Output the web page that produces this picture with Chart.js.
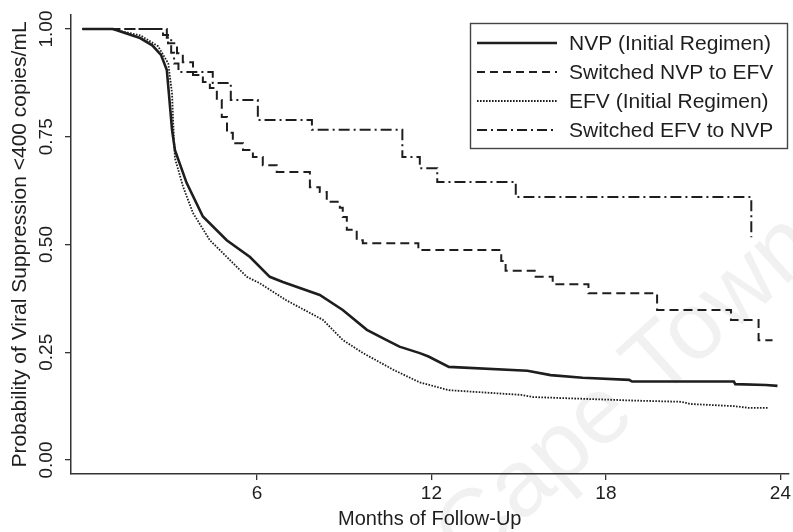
<!DOCTYPE html>
<html>
<head>
<meta charset="utf-8">
<script src="https://cdn.jsdelivr.net/npm/chart.js@4.4.1/dist/chart.umd.min.js"></script>
<style>
  html, body { margin: 0; padding: 0; background: #fff; }
  #wrap { width: 793px; height: 532px; position: relative; }
</style>
</head>
<body>
<div id="wrap"><canvas id="kmChart"></canvas></div>
<script>
// series labels (legend order)
const seriesLabels = [
  'NVP (Initial Regimen)',
  'Switched NVP to EFV',
  'EFV (Initial Regimen)',
  'Switched EFV to NVP'
];

// NVP initial regimen
const nvpMonths = [0, 1.05, 1.98, 2.4, 2.7, 2.9, 3.0, 3.08, 3.18, 3.58, 4.14, 4.96, 5.76, 6.44, 6.89, 8.16, 8.95, 9.78, 10.46, 10.9, 11.6, 11.9, 12.6, 15.3, 16.1, 17.2, 18.8, 18.9, 22.4, 22.45, 23.5, 23.9];
const nvpSurv   = [1, 1, 0.979, 0.962, 0.94, 0.905, 0.828, 0.766, 0.719, 0.643, 0.565, 0.51, 0.471, 0.425, 0.413, 0.383, 0.348, 0.302, 0.278, 0.263, 0.248, 0.24, 0.216, 0.207, 0.197, 0.191, 0.186, 0.182, 0.182, 0.176, 0.174, 0.172];

// switched NVP -> EFV
const nvpEfvMonths = [0, 2.77, 2.94, 3.25, 3.45, 3.8, 4.14, 4.38, 4.62, 4.79, 4.97, 5.17, 5.52, 5.86, 6.2, 6.68, 7.82, 8.16, 8.4, 8.85, 8.95, 9.09, 9.43, 9.64, 11.55, 14.4, 14.55, 15.55, 16.17, 17.4, 19.76, 22.3, 23.25, 23.73];
const nvpEfvSurv   = [1, 0.986, 0.967, 0.944, 0.923, 0.893, 0.877, 0.863, 0.835, 0.796, 0.759, 0.735, 0.719, 0.703, 0.684, 0.668, 0.633, 0.622, 0.599, 0.585, 0.564, 0.534, 0.51, 0.503, 0.487, 0.462, 0.439, 0.425, 0.408, 0.387, 0.348, 0.325, 0.278, 0.278];

// EFV initial regimen
const efvMonths = [0, 1.0, 2.0, 2.6, 2.95, 3.08, 3.12, 3.18, 3.46, 3.8, 4.38, 5.07, 5.65, 6.1, 7.0, 8.27, 8.96, 9.65, 10.7, 11.6, 12.6, 15.1, 15.5, 18.9, 20.6, 20.9, 22.4, 22.9, 23.6];
const efvSurv   = [1, 1, 0.985, 0.96, 0.92, 0.85, 0.78, 0.70, 0.634, 0.573, 0.51, 0.464, 0.425, 0.41, 0.371, 0.325, 0.278, 0.248, 0.209, 0.18, 0.162, 0.151, 0.146, 0.138, 0.135, 0.13, 0.125, 0.121, 0.121];

// switched EFV -> NVP
const efvNvpMonths = [0, 2.9, 3.05, 3.15, 3.3, 4.48, 5.1, 6.03, 7.89, 11.0, 11.6, 12.2, 14.9, 23.0];
const efvNvpSurv   = [1, 0.98, 0.945, 0.92, 0.9, 0.875, 0.835, 0.789, 0.766, 0.703, 0.677, 0.645, 0.61, 0.517];

const xTickValues = [6, 12, 18, 24];
const yTickValues = [0, 0.25, 0.5, 0.75, 1];

const ink = '#1e1e1e';
const font = "'Liberation Sans', Arial, sans-serif";

function pts(xs, ys) {
  return xs.map((x, i) => ({ x: x, y: ys[i] }));
}

const datasets = [
  { label: seriesLabels[0], data: pts(nvpMonths, nvpSurv), borderWidth: 2.6, borderDash: [], legendDash: [] },
  { label: seriesLabels[1], data: pts(nvpEfvMonths, nvpEfvSurv), borderWidth: 2, borderDash: [9, 5], legendDash: [8, 5], stepped: true },
  { label: seriesLabels[2], data: pts(efvMonths, efvSurv), borderWidth: 1.8, borderDash: [1.6, 1.4], legendDash: [1.6, 1.4] },
  { label: seriesLabels[3], data: pts(efvNvpMonths, efvNvpSurv), borderWidth: 2, borderDash: [11, 4, 2, 4], legendDash: [10, 4, 2, 4], stepped: true }
].map(d => Object.assign({ borderColor: ink, pointRadius: 0, fill: false, tension: 0 }, d));

// faint scan watermark behind the plot
const watermark = {
  id: 'watermark',
  beforeDraw(chart) {
    const ctx = chart.ctx;
    ctx.save();
    ctx.translate(628, 392);
    ctx.rotate(-42 * Math.PI / 180);
    ctx.font = '95px ' + font;
    ctx.fillStyle = 'rgba(0,0,0,0.055)';
    ctx.textAlign = 'center';
    ctx.textBaseline = 'middle';
    ctx.fillText('Cape Town', 0, 0);
    ctx.restore();
  }
};

// boxed legend in the top right corner
const boxLegend = {
  id: 'boxLegend',
  afterDatasetsDraw(chart) {
    const ctx = chart.ctx;
    const left = 470, top = 23, w = 317, h = 125;
    ctx.save();
    ctx.fillStyle = '#fff';
    ctx.fillRect(left, top, w, h);
    ctx.strokeStyle = '#444';
    ctx.lineWidth = 1.4;
    ctx.strokeRect(left + 0.5, top + 0.5, w, h);
    ctx.font = '21px ' + font;
    ctx.textBaseline = 'middle';
    ctx.textAlign = 'left';
    chart.data.datasets.forEach((ds, i) => {
      const y = top + 20 + i * 29;
      ctx.beginPath();
      ctx.setLineDash(ds.legendDash);
      ctx.lineWidth = ds.borderWidth;
      ctx.strokeStyle = ink;
      ctx.moveTo(477, y);
      ctx.lineTo(557, y);
      ctx.stroke();
      ctx.setLineDash([]);
      ctx.fillStyle = ink;
      ctx.fillText(ds.label, 569, y + 1);
    });
    ctx.restore();
  }
};

new Chart(document.getElementById('kmChart'), {
  type: 'line',
  data: { datasets: datasets },
  options: {
    responsive: true,
    maintainAspectRatio: false,
    animation: false,
    layout: { padding: { top: 15, right: 4, left: 0, bottom: 0 } },
    plugins: {
      legend: { display: false },
      tooltip: { enabled: false }
    },
    scales: {
      x: {
        type: 'linear',
        min: -0.395,
        max: 24.28,
        afterBuildTicks: s => { s.ticks = xTickValues.map(v => ({ value: v })); },
        afterFit: s => { s.height = 58; },
        ticks: { color: ink, font: { family: font, size: 19 }, padding: 2, autoSkip: false, maxRotation: 0 },
        grid: { drawOnChartArea: false, drawTicks: true, tickLength: 6, color: '#333', lineWidth: 1.3 },
        border: { display: true, color: '#333', width: 1.5 },
        title: { display: true, text: 'Months of Follow-Up', color: ink, font: { family: font, size: 20 }, padding: { top: 0, bottom: 1 } }
      },
      y: {
        type: 'linear',
        min: -0.0325,
        max: 1.0325,
        afterBuildTicks: s => { s.ticks = yTickValues.map(v => ({ value: v })); },
        afterFit: s => { s.width = 71; },
        ticks: {
          color: ink, font: { family: font, size: 19 }, padding: 0,
          minRotation: 90, maxRotation: 90, crossAlign: 'center',
          callback: v => v.toFixed(2)
        },
        grid: { drawOnChartArea: false, drawTicks: true, tickLength: 6, color: '#333', lineWidth: 1.3 },
        border: { display: true, color: '#333', width: 1.5 },
        title: { display: true, text: 'Probability of Viral Suppression <400 copies/mL', color: ink, font: { family: font, size: 21 }, padding: { top: 8, bottom: 0 } }
      }
    }
  },
  plugins: [watermark, boxLegend]
});
</script>
</body>
</html>
